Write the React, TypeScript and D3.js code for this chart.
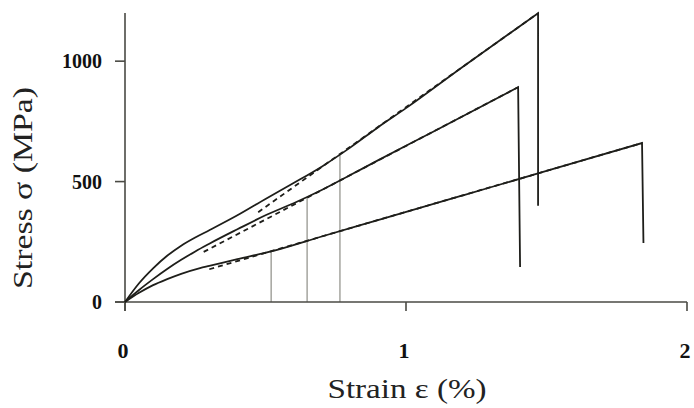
import React from "react";
import * as d3 from "d3";

// Stress-strain curves (strain %, stress MPa)
const curveTopStrain = [0, 0.05, 0.1, 0.15, 0.2, 0.25, 0.3, 0.4, 0.5, 0.6, 0.7, 0.8, 0.9, 1.0, 1.2, 1.47, 1.47];
const curveTopStress = [0, 78, 140, 192, 234, 268, 298, 360, 428, 494, 562, 640, 725, 805, 975, 1199, 400];

const curveMidStrain = [0, 0.05, 0.1, 0.15, 0.2, 0.25, 0.3, 0.4, 0.5, 0.6, 0.7, 0.8, 0.9, 1.1, 1.399, 1.406];
const curveMidStress = [0, 50, 95, 137, 175, 210, 242, 302, 360, 410, 465, 526, 588, 709, 892, 145];

const curveLowStrain = [0, 0.05, 0.1, 0.15, 0.2, 0.267, 0.3, 0.4, 0.52, 0.7, 0.9, 1.2, 1.5, 1.84, 1.845];
const curveLowStress = [0, 38, 70, 95, 117, 141, 150, 178, 210, 272, 340, 442, 544, 660, 245];

// Linear fits (dashed): start and end points
const fitTopStrain = [0.474, 1.47];
const fitTopStress = [373, 1199];
const fitMidStrain = [0.28, 1.399];
const fitMidStress = [208, 892];
const fitLowStrain = [0.3, 1.84];
const fitLowStress = [136, 660];

// Vertical markers
const markerStrain = [0.52, 0.648, 0.765];
const markerStress = [208, 431, 614];

const xTicks = [0, 1, 2];
const yTicks = [0, 500, 1000];

const W = 694;
const H = 408;

export default function App() {
  const x = d3.scaleLinear().domain([0, 2]).range([125, 687]);
  const y = d3.scaleLinear().domain([0, 1200]).range([302, 13]);
  const straight = d3
    .line<[number, number]>()
    .x((d) => x(d[0]))
    .y((d) => y(d[1]));

  const zip = (a: number[], b: number[]) => a.map((v, i) => [v, b[i]] as [number, number]);
  const curves = [
    zip(curveTopStrain, curveTopStress),
    zip(curveMidStrain, curveMidStress),
    zip(curveLowStrain, curveLowStress),
  ];
  const fits = [
    zip(fitTopStrain, fitTopStress),
    zip(fitMidStrain, fitMidStress),
    zip(fitLowStrain, fitLowStress),
  ];
  const smooth = d3
    .line<[number, number]>()
    .x((d) => x(d[0]))
    .y((d) => y(d[1]))
    .curve(d3.curveMonotoneX);

  const axisColor = "#4a4a44";
  const fontStyle = { fontFamily: "'Liberation Serif', 'Times New Roman', serif" };

  return (
    <svg
      width={W}
      height={H}
      style={{ position: "absolute", left: 0, top: 0, background: "#fff" }}
    >
      {/* vertical markers */}
      {markerStrain.map((s, i) => (
        <line
          key={"m" + i}
          x1={x(s)}
          x2={x(s)}
          y1={y(0)}
          y2={y(markerStress[i])}
          stroke="#77776e"
          strokeWidth={1}
        />
      ))}
      {/* axes */}
      <line x1={x(0)} x2={x(0)} y1={y(1200)} y2={y(0) + 9} stroke={axisColor} strokeWidth={1.6} />
      <line x1={x(0) - 10} x2={x(2)} y1={y(0)} y2={y(0)} stroke={axisColor} strokeWidth={1.6} />
      {yTicks.map((t) => (
        <g key={"yt" + t}>
          <line x1={x(0) - 10} x2={x(0)} y1={y(t)} y2={y(t)} stroke={axisColor} strokeWidth={1.6} />
          <text
            x={x(0) - 23}
            y={y(t) + 7}
            textAnchor="end"
            style={fontStyle}
            fontWeight="bold"
            fontSize={20}
            fill="#111"
          >
            {t}
          </text>
        </g>
      ))}
      {xTicks.map((t) => (
        <g key={"xt" + t}>
          <line x1={x(t)} x2={x(t)} y1={y(0)} y2={y(0) + 9} stroke={axisColor} strokeWidth={1.6} />
          <text
            x={x(t) - 2}
            y={358}
            textAnchor="middle"
            style={fontStyle}
            fontWeight="bold"
            fontSize={22}
            fill="#111"
          >
            {t}
          </text>
        </g>
      ))}
      {/* curves */}
      {curves.map((c, i) => (
        <path
          key={"c" + i}
          d={smooth(c.slice(0, c.length - 1)) + "L" + x(c[c.length - 1][0]) + "," + y(c[c.length - 1][1])}
          fill="none"
          stroke="#1e1e1a"
          strokeWidth={1.8}
          strokeLinejoin="miter"
        />
      ))}
      {fits.map((f, i) => (
        <path
          key={"f" + i}
          d={straight(f) || ""}
          fill="none"
          stroke="#1e1e1a"
          strokeWidth={1.8}
          strokeDasharray="5,4"
        />
      ))}
      {/* axis titles */}
      <text
        x={407}
        y={398}
        textAnchor="middle"
        style={fontStyle}
        fontSize={28}
        fill="#222"
        textLength={159}
        lengthAdjust="spacingAndGlyphs"
      >
        Strain ε  (%)
      </text>
      <text
        transform={`translate(32,188) rotate(-90)`}
        textAnchor="middle"
        style={fontStyle}
        fontSize={28}
        fill="#222"
        textLength={202}
        lengthAdjust="spacingAndGlyphs"
      >
        Stress  σ  (MPa)
      </text>
    </svg>
  );
}
